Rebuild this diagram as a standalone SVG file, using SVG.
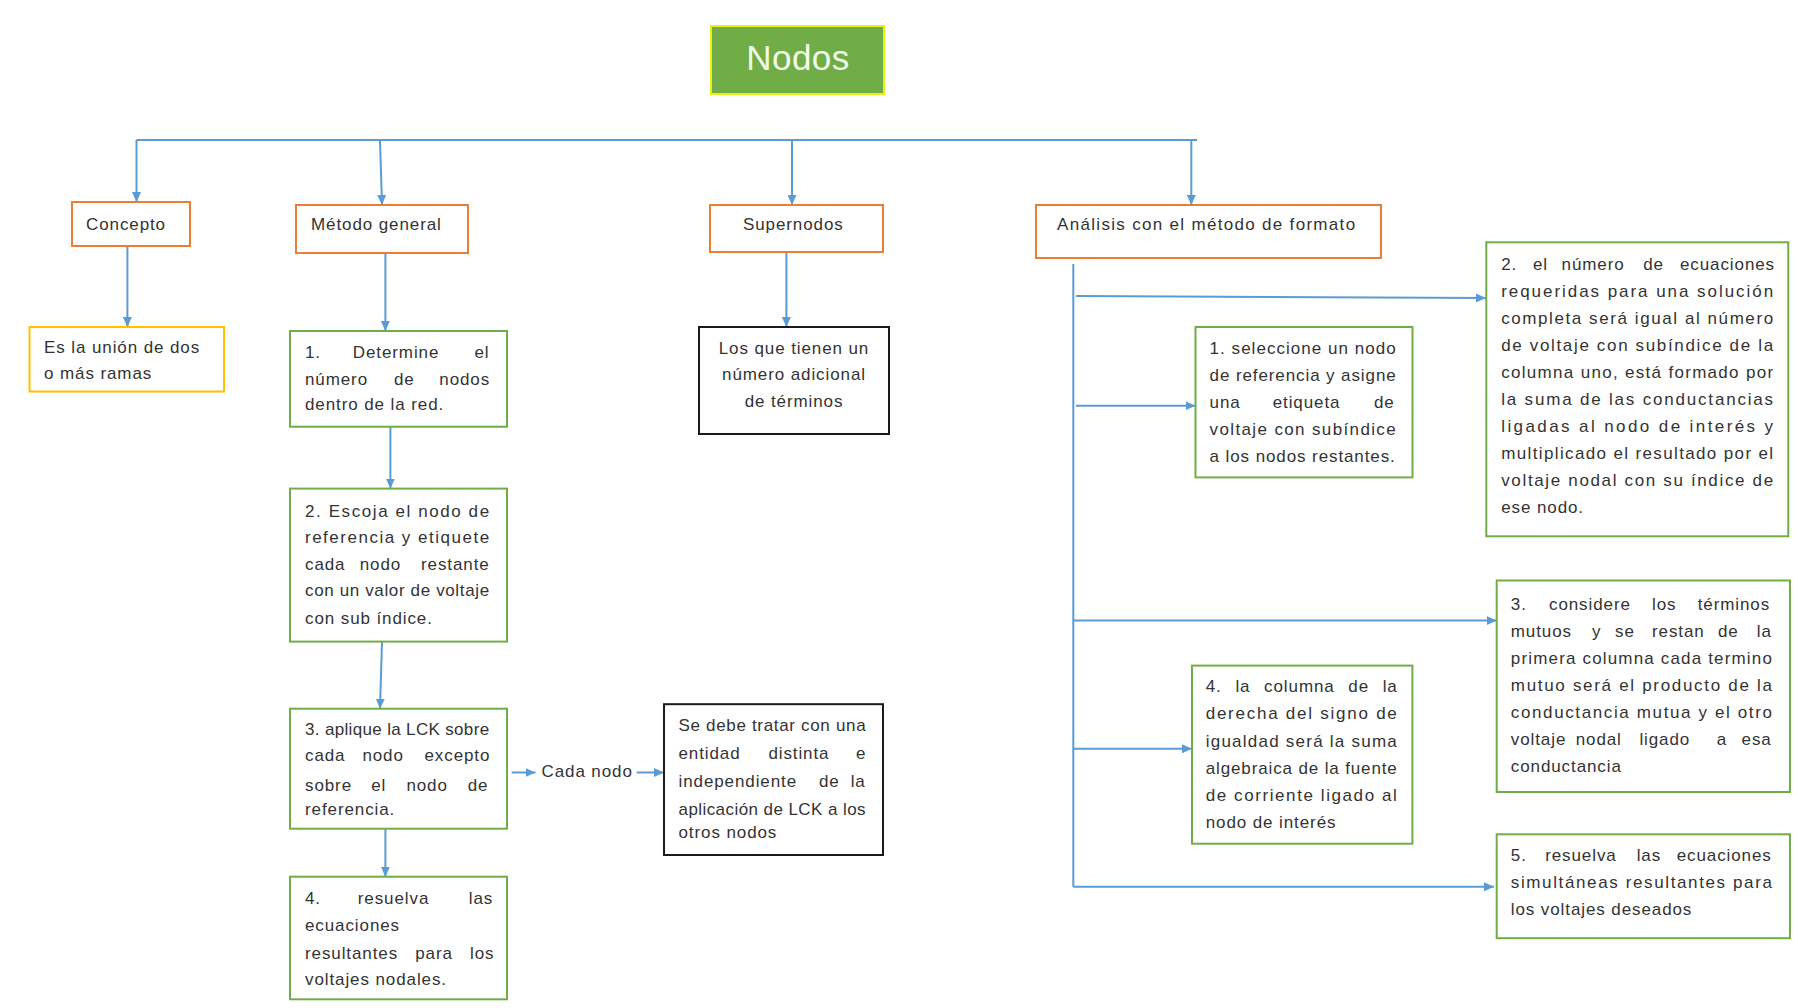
<svg xmlns="http://www.w3.org/2000/svg" width="1798" height="1008" viewBox="0 0 1798 1008">
<style>
.t{font-family:"Liberation Sans",Arial,sans-serif;font-size:17px;fill:#333;letter-spacing:0.9px}
.b{fill:#fff;stroke-width:2}
.o{stroke:#ED7D31}
.g{stroke:#70AD47}
.y{stroke:#FFC000}
.k{stroke:#1a1a1a}
.c{fill:none;stroke:#5B9BD5;stroke-width:2}
.a{marker-end:url(#arr)}
</style>
<defs>
<marker id="arr" markerUnits="userSpaceOnUse" markerWidth="10" markerHeight="9" refX="10" refY="4.5" orient="auto">
<path d="M0,0 L10,4.5 L0,9 z" fill="#5B9BD5"/>
</marker>
</defs>
<rect width="1798" height="1008" fill="#fff"/>

<g id="connectors">
<path class="c" d="M136.5,140 H1197"/>
<path class="c a" d="M136.5,140 V202"/>
<path class="c a" d="M380,140 L382,205"/>
<path class="c a" d="M792,140 V205"/>
<path class="c a" d="M1191.3,140 V205"/>
<path class="c a" d="M127.4,246 V327"/>
<path class="c a" d="M385.4,253 V331"/>
<path class="c a" d="M390.4,426.7 V488.6"/>
<path class="c a" d="M382,641.6 L380,708.7"/>
<path class="c a" d="M385.4,828.7 V876.7"/>
<path class="c a" d="M511.7,772.5 H535.5"/>
<path class="c a" d="M636.7,772.5 H664"/>
<path class="c a" d="M786.4,251.7 V327"/>
<path class="c" d="M1073.3,264 V886.8"/>
<path class="c a" d="M1076,296 L1486,298"/>
<path class="c a" d="M1076,405.7 H1195.5"/>
<path class="c a" d="M1073.3,620.6 H1496.7"/>
<path class="c a" d="M1073.3,748.8 H1192"/>
<path class="c a" d="M1073.3,886.8 H1494"/>
</g>

<g id="nodos">
<rect x="711" y="26" width="173" height="68" fill="#70AD47" stroke="#E8F016" stroke-width="2"/>
<text x="798" y="70" text-anchor="middle" style="font-family:'Liberation Sans',Arial,sans-serif;font-size:35px;fill:#F2FBEA;letter-spacing:0.5px">Nodos</text>
</g>

<g id="concepto">
<rect class="b o" x="72" y="202" width="118" height="44"/>
<text class="t" x="86" y="230">Concepto</text>
</g>

<g id="metodo-general">
<rect class="b o" x="296" y="205" width="172" height="48"/>
<text class="t" x="311" y="230">Método general</text>
</g>

<g id="supernodos">
<rect class="b o" x="710" y="205" width="173" height="47"/>
<text class="t" x="743" y="230">Supernodos</text>
</g>

<g id="analisis">
<rect class="b o" x="1036" y="205" width="345" height="53"/>
<text class="t" x="1057" y="230" textLength="299" lengthAdjust="spacing">Análisis con el método de formato</text>
</g>

<g id="concepto-def">
<rect class="b y" x="29.5" y="327" width="194.5" height="64.5"/>
<text class="t" x="44" y="353">Es la unión de dos</text>
<text class="t" x="44" y="379">o más ramas</text>
</g>

<g id="paso1">
<rect class="b g" x="290" y="331" width="217" height="95.7"/>
<text class="t" y="358"><tspan x="305">1.</tspan><tspan x="352.8">Determine</tspan><tspan x="474.5">el</tspan></text>
<text class="t" y="385"><tspan x="305">número</tspan><tspan x="394">de</tspan><tspan x="439.3">nodos</tspan></text>
<text class="t" x="305" y="410">dentro de la red.</text>
</g>

<g id="paso2">
<rect class="b g" x="290" y="488.6" width="217" height="153"/>
<text class="t" x="305" y="516.7" textLength="185" lengthAdjust="spacing">2. Escoja el nodo de</text>
<text class="t" x="305" y="543" textLength="185" lengthAdjust="spacing">referencia y etiquete</text>
<text class="t" y="570"><tspan x="305">cada</tspan><tspan x="359.7">nodo</tspan><tspan x="421">restante</tspan></text>
<text class="t" x="305" y="596.2" textLength="185" lengthAdjust="spacing">con un valor de voltaje</text>
<text class="t" x="305" y="623.6">con sub índice.</text>
</g>

<g id="paso3">
<rect class="b g" x="290" y="708.7" width="217" height="120"/>
<text class="t" x="305" y="735" textLength="185" lengthAdjust="spacing">3. aplique la LCK sobre</text>
<text class="t" y="761.2"><tspan x="305">cada</tspan><tspan x="362.4">nodo</tspan><tspan x="424.5">excepto</tspan></text>
<text class="t" y="790.5"><tspan x="305">sobre</tspan><tspan x="371.2">el</tspan><tspan x="406.4">nodo</tspan><tspan x="467.7">de</tspan></text>
<text class="t" x="305" y="814.5">referencia.</text>
</g>

<g id="paso4">
<rect class="b g" x="290" y="876.7" width="217" height="122.6"/>
<text class="t" y="903.7"><tspan x="305">4.</tspan><tspan x="357.8">resuelva</tspan><tspan x="468.8">las</tspan></text>
<text class="t" x="305" y="930.7">ecuaciones</text>
<text class="t" y="959.2"><tspan x="305">resultantes</tspan><tspan x="415.2">para</tspan><tspan x="470">los</tspan></text>
<text class="t" x="305" y="985.4">voltajes nodales.</text>
</g>

<g id="cada-nodo">
<text class="t" x="541.5" y="777">Cada nodo</text>
</g>

<g id="se-debe">
<rect class="b k" x="664" y="704.2" width="219" height="150.8"/>
<text class="t" x="678.5" y="731.2" textLength="188" lengthAdjust="spacing">Se debe tratar con una</text>
<text class="t" y="759.3"><tspan x="678.5">entidad</tspan><tspan x="768.4">distinta</tspan><tspan x="856">e</tspan></text>
<text class="t" y="786.7"><tspan x="678.5">independiente</tspan><tspan x="818.9">de</tspan><tspan x="850.7">la</tspan></text>
<text class="t" x="678.5" y="814.5" textLength="188" lengthAdjust="spacing">aplicación de LCK a los</text>
<text class="t" x="678.5" y="838">otros nodos</text>
</g>

<g id="supernodos-def">
<rect class="b k" x="699" y="327" width="190" height="107"/>
<text class="t" x="794" y="354" text-anchor="middle">Los que tienen un</text>
<text class="t" x="794" y="380" text-anchor="middle">número adicional</text>
<text class="t" x="794" y="406.7" text-anchor="middle">de términos</text>
</g>

<g id="formato1">
<rect class="b g" x="1195.5" y="327" width="217" height="150.4"/>
<text class="t" x="1209.6" y="354" textLength="187" lengthAdjust="spacing">1. seleccione un nodo</text>
<text class="t" x="1209.6" y="381" textLength="187" lengthAdjust="spacing">de referencia y asigne</text>
<text class="t" y="408"><tspan x="1209.6">una</tspan><tspan x="1272.7">etiqueta</tspan><tspan x="1374">de</tspan></text>
<text class="t" x="1209.6" y="435" textLength="187" lengthAdjust="spacing">voltaje con subíndice</text>
<text class="t" x="1209.6" y="462">a los nodos restantes.</text>
</g>

<g id="formato2">
<rect class="b g" x="1486.3" y="242.3" width="302" height="294"/>
<text class="t" y="270"><tspan x="1501.2">2.</tspan><tspan x="1533">el</tspan><tspan x="1561.6">número</tspan><tspan x="1643.2">de</tspan><tspan x="1680">ecuaciones</tspan></text>
<text class="t" x="1501.2" y="297" textLength="272.8" lengthAdjust="spacing">requeridas para una solución</text>
<text class="t" x="1501.2" y="324" textLength="272.8" lengthAdjust="spacing">completa será igual al número</text>
<text class="t" x="1501.2" y="351" textLength="272.8" lengthAdjust="spacing">de voltaje con subíndice de la</text>
<text class="t" x="1501.2" y="378" textLength="272.8" lengthAdjust="spacing">columna uno, está formado por</text>
<text class="t" x="1501.2" y="405" textLength="272.8" lengthAdjust="spacing">la suma de las conductancias</text>
<text class="t" x="1501.2" y="432" textLength="272.8" lengthAdjust="spacing">ligadas al nodo de interés y</text>
<text class="t" x="1501.2" y="459" textLength="272.8" lengthAdjust="spacing">multiplicado el resultado por el</text>
<text class="t" x="1501.2" y="486" textLength="272.8" lengthAdjust="spacing">voltaje nodal con su índice de</text>
<text class="t" x="1501.2" y="513">ese nodo.</text>
</g>

<g id="formato3">
<rect class="b g" x="1496.7" y="580.5" width="293.3" height="211.5"/>
<text class="t" y="609.5"><tspan x="1510.8">3.</tspan><tspan x="1549">considere</tspan><tspan x="1652">los</tspan><tspan x="1697.7">términos</tspan></text>
<text class="t" y="636.5"><tspan x="1510.8">mutuos</tspan><tspan x="1592.1">y</tspan><tspan x="1615">se</tspan><tspan x="1652">restan</tspan><tspan x="1717.9">de</tspan><tspan x="1756.8">la</tspan></text>
<text class="t" x="1510.8" y="663.5" textLength="262" lengthAdjust="spacing">primera columna cada termino</text>
<text class="t" x="1510.8" y="690.5" textLength="262" lengthAdjust="spacing">mutuo será el producto de la</text>
<text class="t" x="1510.8" y="717.5" textLength="262" lengthAdjust="spacing">conductancia mutua y el otro</text>
<text class="t" y="744.5"><tspan x="1510.8">voltaje</tspan><tspan x="1575.7">nodal</tspan><tspan x="1639.4">ligado</tspan><tspan x="1716.8">a</tspan><tspan x="1741.6">esa</tspan></text>
<text class="t" x="1510.8" y="771.5">conductancia</text>
</g>

<g id="formato4">
<rect class="b g" x="1192" y="665.6" width="220.4" height="178.1"/>
<text class="t" y="692"><tspan x="1205.7">4.</tspan><tspan x="1235.4">la</tspan><tspan x="1264.1">columna</tspan><tspan x="1348.3">de</tspan><tspan x="1382.7">la</tspan></text>
<text class="t" x="1205.7" y="719" textLength="192" lengthAdjust="spacing">derecha del signo de</text>
<text class="t" x="1205.7" y="746.5" textLength="192" lengthAdjust="spacing">igualdad será la suma</text>
<text class="t" x="1205.7" y="774" textLength="192" lengthAdjust="spacing">algebraica de la fuente</text>
<text class="t" x="1205.7" y="801" textLength="192" lengthAdjust="spacing">de corriente ligado al</text>
<text class="t" x="1205.7" y="828">nodo de interés</text>
</g>

<g id="formato5">
<rect class="b g" x="1496.7" y="834.3" width="293.3" height="103.9"/>
<text class="t" y="861"><tspan x="1510.8">5.</tspan><tspan x="1545.2">resuelva</tspan><tspan x="1636.7">las</tspan><tspan x="1676.7">ecuaciones</tspan></text>
<text class="t" x="1510.8" y="888" textLength="262" lengthAdjust="spacing">simultáneas resultantes para</text>
<text class="t" x="1510.8" y="915">los voltajes deseados</text>
</g>
</svg>
